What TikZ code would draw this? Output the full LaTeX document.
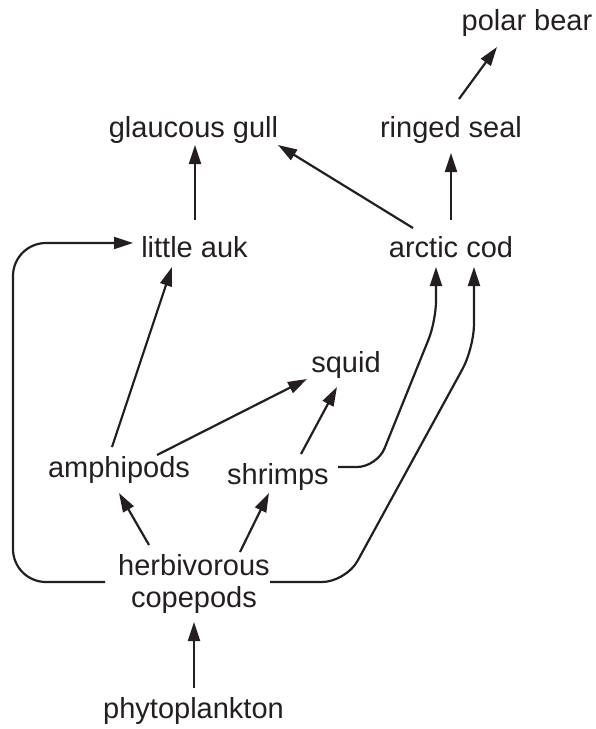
\documentclass[tikz,border=0pt]{standalone}
\usepackage{fontspec}
\setmainfont{Liberation Sans}
\usetikzlibrary{arrows.meta,calc}
\definecolor{ink}{HTML}{231F20}
\begin{document}
\begin{tikzpicture}[x=1pt,y=-1pt,
  lbl/.style={inner sep=0pt, anchor=base, font=\fontsize{29}{32}\selectfont, text=ink},
  arr/.style={line width=2.2pt, draw=ink, -{Triangle[length=19pt,width=12pt]}},
  link/.style={line width=2.2pt, draw=ink}]
\useasboundingbox (0,0) rectangle (596,729);
\node[lbl] (pb) at (527,30) {polar bear};
\node[lbl] (gg) at (193.5,137) {glaucous gull};
\node[lbl] (rs) at (451,137) {ringed seal};
\node[lbl] (la) at (194.5,257) {little auk};
\node[lbl] (ac) at (451,257) {arctic cod};
\node[lbl] (sq) at (346,372) {squid};
\node[lbl] (am) at (119,477) {amphipods};
\node[lbl] (sh) at (278,484) {shrimps};
\node[lbl, anchor=center, align=center] (hc) at (194,583.5) {herbivorous\\copepods};
\node[lbl] (ph) at (193.5,718) {phytoplankton};
% straight arrows
\draw[arr] ($(la.base)+(0.5,-37)$) -- ($(gg.base)+(1.5,8)$);
\draw[arr] ($(ac.base)+(0,-37)$) -- ($(rs.base)+(0,16)$);
\draw[arr] ($(rs.base)+(8,-38)$) -- ($(pb.base)+(-30,17)$);
\draw[arr] ($(ac.base)+(-38,-29)$) -- ($(gg.base)+(84.5,8)$);
\draw[arr] ($(am.base)+(-7,-30)$) -- ($(la.base)+(-22.5,10)$);
\draw[arr] ($(am.base)+(38,-22)$) -- ($(sq.base)+(-39,7)$);
\draw[arr] ($(sh.base)+(23,-30)$) -- ($(sq.base)+(-9,15)$);
\draw[arr] ($(hc.center)+(-45,-38.5)$) -- ($(am.base)+(0,16)$);
\draw[arr] ($(hc.center)+(46,-31.5)$) -- ($(sh.base)+(-9,9)$);
\draw[arr] ($(ph.base)+(0.5,-30)$) -- ($(hc.center)+(0,38.5)$);
% loop to little auk
\draw[arr, rounded corners=33pt] ($(hc.center)+(-89,-1.5)$) -- ($(hc.center)+(-181,-1.5)$) -- ($(la.base)+(-181.5,-14)$) -- ($(la.base)+(-61.5,-14)$);
% curves to arctic cod
\draw[arr, rounded corners=20pt] ($(sh.base)+(60,-17)$) -- ($(sh.base)+(99,-17)$) -- ($(ac.base)+(-15,64)$) -- ($(ac.base)+(-15,10)$);
\draw[arr, rounded corners=24pt] ($(hc.center)+(76,-1.5)$) -- ($(hc.center)+(152,-1.5)$) -- ($(ac.base)+(23,91)$) -- ($(ac.base)+(23,10)$);
\end{tikzpicture}
\end{document}
